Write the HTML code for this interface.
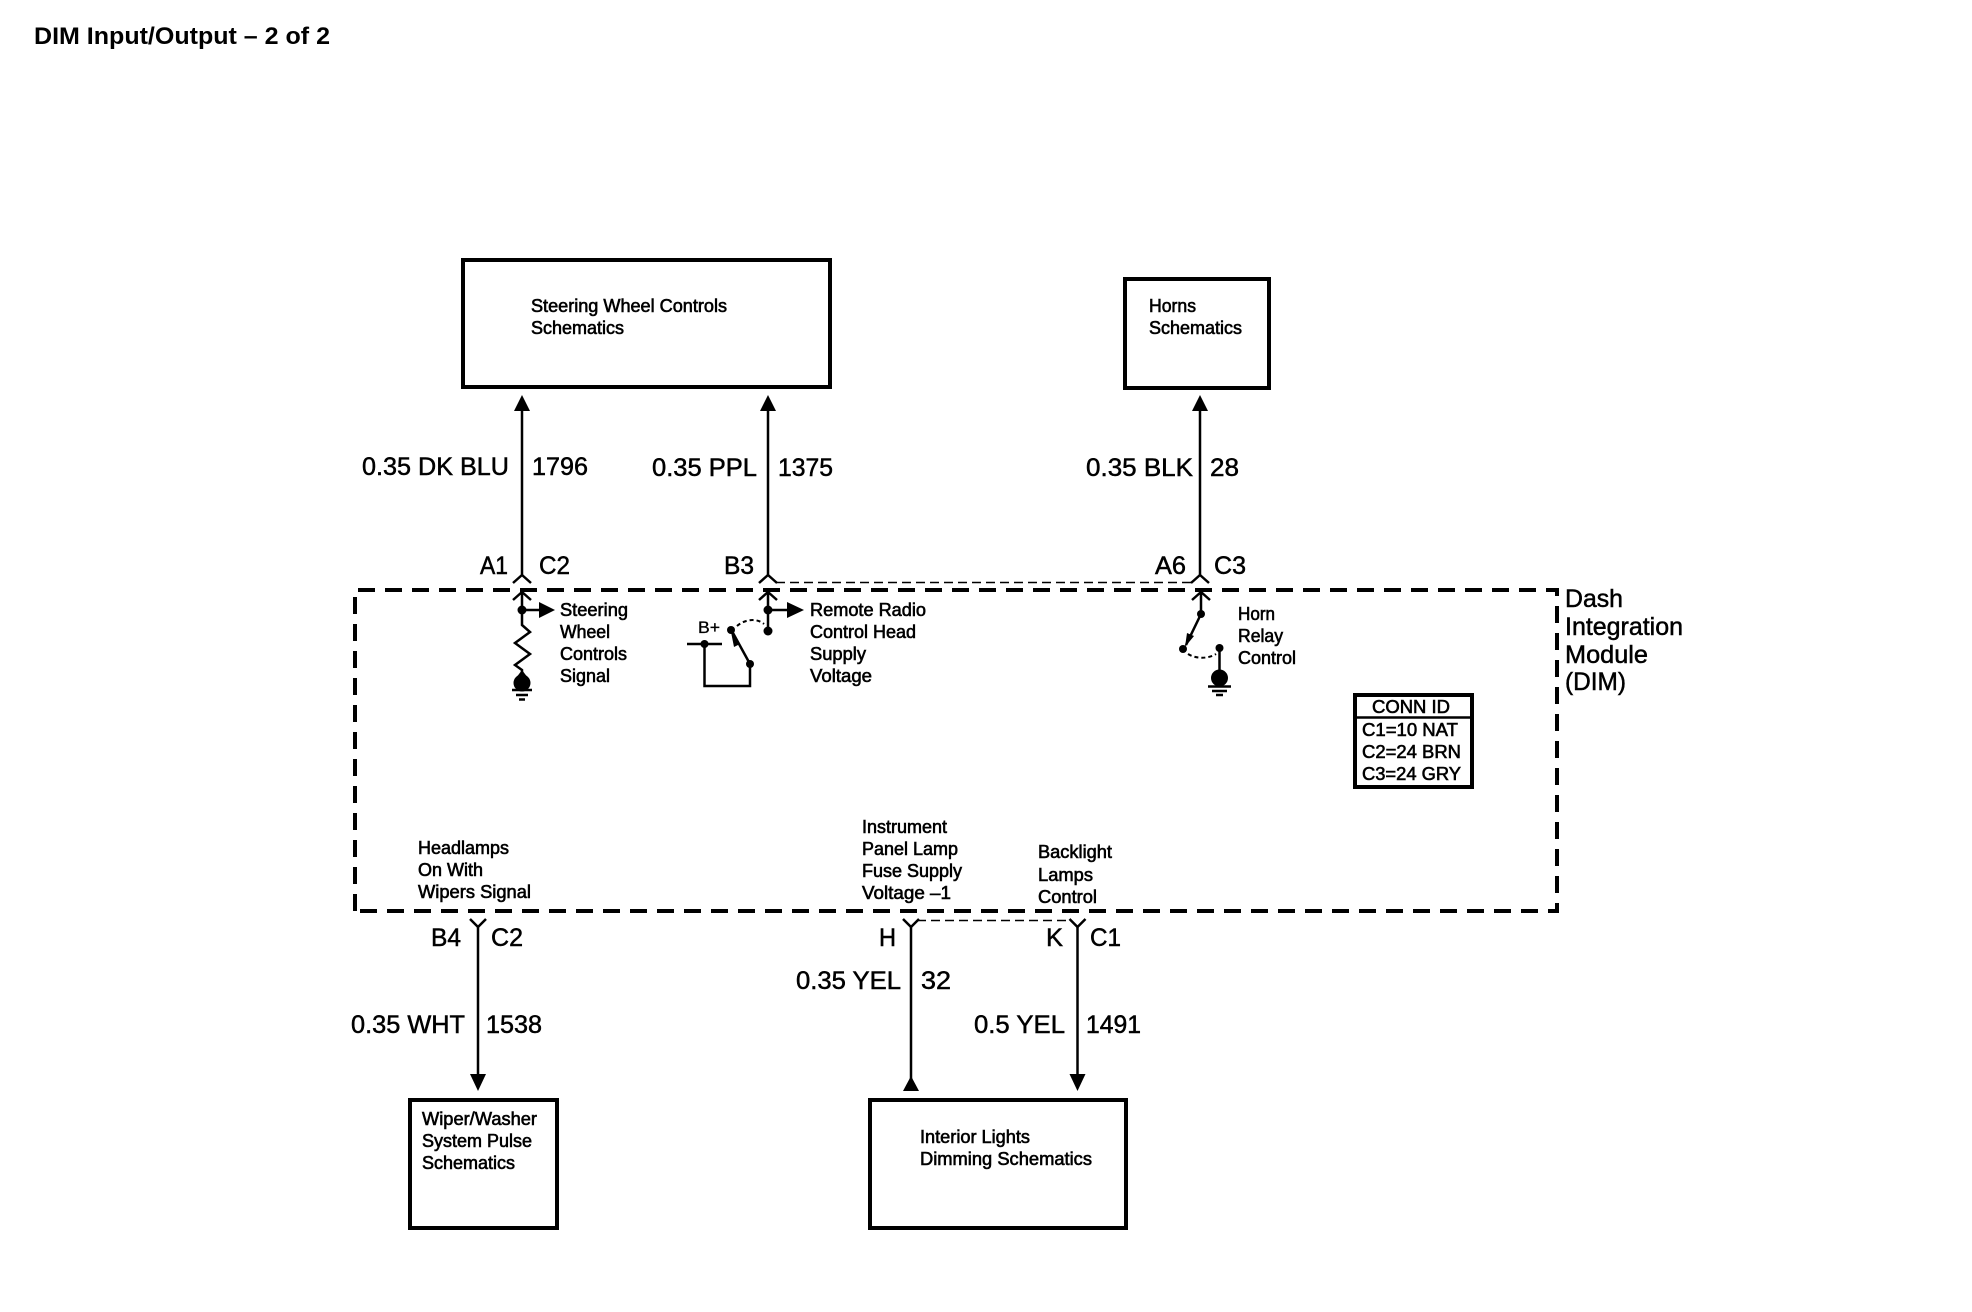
<!DOCTYPE html>
<html><head><meta charset="utf-8"><title>DIM Input/Output – 2 of 2</title>
<style>
html,body{margin:0;padding:0;background:#fff}
svg{display:block}
text{font-family:"Liberation Sans",sans-serif;fill:#000;stroke:#000;transform:translateX(-1px)}
.s{font-size:18px;stroke-width:.6}
.l{font-size:25px;stroke-width:.5}
.t{font-size:24px;font-weight:bold;stroke-width:0;transform:none}
.w{fill:none;stroke:#000;stroke-width:2.5}
.b{fill:none;stroke:#000;stroke-width:4}
.d{fill:none;stroke:#000;stroke-width:1.5;stroke-dasharray:9 5}
</style></head><body>
<svg width="1972" height="1312" viewBox="0 0 1972 1312" xmlns="http://www.w3.org/2000/svg">
<rect width="1972" height="1312" fill="#fff"/>
<text class="t" x="34" y="44" textLength="296" lengthAdjust="spacingAndGlyphs">DIM Input/Output – 2 of 2</text>

<!-- boxes -->
<rect class="b" x="463" y="260" width="367" height="127"/>
<rect class="b" x="1125" y="279" width="144" height="109"/>
<rect class="b" x="410" y="1100" width="147" height="128"/>
<rect class="b" x="870" y="1100" width="256" height="128"/>

<!-- box text -->
<text class="s" x="532" y="312" textLength="196" lengthAdjust="spacingAndGlyphs">Steering Wheel Controls</text>
<text class="s" x="532" y="334" textLength="93" lengthAdjust="spacingAndGlyphs">Schematics</text>
<text class="s" x="1150" y="312" textLength="47" lengthAdjust="spacingAndGlyphs">Horns</text>
<text class="s" x="1150" y="334" textLength="93" lengthAdjust="spacingAndGlyphs">Schematics</text>
<text class="s" x="423" y="1125" textLength="115" lengthAdjust="spacingAndGlyphs">Wiper/Washer</text>
<text class="s" x="423" y="1147" textLength="110" lengthAdjust="spacingAndGlyphs">System Pulse</text>
<text class="s" x="423" y="1169" textLength="93" lengthAdjust="spacingAndGlyphs">Schematics</text>
<text class="s" x="921" y="1143" textLength="110" lengthAdjust="spacingAndGlyphs">Interior Lights</text>
<text class="s" x="921" y="1165" textLength="172" lengthAdjust="spacingAndGlyphs">Dimming Schematics</text>

<!-- DIM dashed boundary -->
<path d="M355 911V590H1557V911Z" fill="none" stroke="#000" stroke-width="4" stroke-dasharray="17 10"/>

<!-- upper wires -->
<path class="w" d="M522 575V408M768 575V408M1200 575V408"/>
<path d="M522 395l-8 16h16zM768 395l-8 16h16zM1200 395l-8 16h16z" fill="#000"/>
<path class="w" d="M513 583l9-8 9 8M759 583l9-8 9 8M1191 583l9-8 9 8"/>
<path class="d" d="M776 582.500H1192"/>
<text class="l" x="363" y="475" textLength="147" lengthAdjust="spacingAndGlyphs">0.35 DK BLU</text>
<text class="l" x="533" y="475" textLength="56" lengthAdjust="spacingAndGlyphs">1796</text>
<text class="l" x="653" y="476" textLength="105" lengthAdjust="spacingAndGlyphs">0.35 PPL</text>
<text class="l" x="779" y="476" textLength="55" lengthAdjust="spacingAndGlyphs">1375</text>
<text class="l" x="1087" y="476" textLength="107" lengthAdjust="spacingAndGlyphs">0.35 BLK</text>
<text class="l" x="1211" y="476" textLength="29" lengthAdjust="spacingAndGlyphs">28</text>
<text class="l" x="481" y="574" textLength="28" lengthAdjust="spacingAndGlyphs">A1</text>
<text class="l" x="540" y="574" textLength="31" lengthAdjust="spacingAndGlyphs">C2</text>
<text class="l" x="725" y="574" textLength="30" lengthAdjust="spacingAndGlyphs">B3</text>
<text class="l" x="1156" y="574" textLength="31" lengthAdjust="spacingAndGlyphs">A6</text>
<text class="l" x="1215" y="574" textLength="32" lengthAdjust="spacingAndGlyphs">C3</text>

<!-- Steering wheel circuit -->
<path class="w" d="M513 600l9-8 9 8M522 592V625l8 7-15 11 15 11-15 11 7 5v6"/>
<circle cx="522" cy="610" r="4.500"/>
<path class="w" d="M522 610H540"/>
<path d="M539 602l16 8-16 8z"/>
<circle cx="522" cy="683" r="8.500"/>
<path d="M522 670l6 8h-12z"/>
<path class="w" d="M512 690h20M516 695h12M519 699.500h6"/>
<text class="s" x="561" y="616" textLength="68" lengthAdjust="spacingAndGlyphs">Steering</text>
<text class="s" x="561" y="638" textLength="50" lengthAdjust="spacingAndGlyphs">Wheel</text>
<text class="s" x="561" y="660" textLength="67" lengthAdjust="spacingAndGlyphs">Controls</text>
<text class="s" x="561" y="682" textLength="50" lengthAdjust="spacingAndGlyphs">Signal</text>

<!-- Remote radio circuit -->
<path class="w" d="M759 600l9-8 9 8M768 592V631M768 610H788"/>
<circle cx="768" cy="610" r="4.500"/><circle cx="768" cy="631" r="4.500"/>
<path d="M787 602l17 8-17 8z"/>
<path class="w" d="M687 644H722M704.500 644V686H750V664L733 633"/>
<circle cx="704.500" cy="644" r="4"/><circle cx="750" cy="664" r="4"/><circle cx="731" cy="630" r="4"/>
<path d="M731 632l9 12-6 3z"/>
<path d="M737 626c8-7 20-8 27-2" fill="none" stroke="#000" stroke-width="2" stroke-dasharray="4 3"/>
<text x="699" y="633" font-size="17" stroke-width=".3" textLength="22" lengthAdjust="spacingAndGlyphs">B+</text>
<text class="s" x="811" y="616" textLength="116" lengthAdjust="spacingAndGlyphs">Remote Radio</text>
<text class="s" x="811" y="638" textLength="106" lengthAdjust="spacingAndGlyphs">Control Head</text>
<text class="s" x="811" y="660" textLength="56" lengthAdjust="spacingAndGlyphs">Supply</text>
<text class="s" x="811" y="682" textLength="62" lengthAdjust="spacingAndGlyphs">Voltage</text>

<!-- Horn circuit -->
<path class="w" d="M1192 600l9-8 9 8M1201 592V614L1186 645M1219.500 648V672"/>
<circle cx="1201" cy="614" r="4"/><circle cx="1183" cy="649" r="4"/><circle cx="1219.500" cy="648" r="4"/>
<path d="M1185 647l2-14 7 3z"/>
<path d="M1188 654c8 5 20 5 28 0" fill="none" stroke="#000" stroke-width="2" stroke-dasharray="4 3"/>
<circle cx="1219.500" cy="678" r="8.500"/>
<path class="w" d="M1208 686.500h23M1212 691h15M1216 695h7"/>
<text class="s" x="1239" y="620" textLength="37" lengthAdjust="spacingAndGlyphs">Horn</text>
<text class="s" x="1239" y="642" textLength="45" lengthAdjust="spacingAndGlyphs">Relay</text>
<text class="s" x="1239" y="664" textLength="58" lengthAdjust="spacingAndGlyphs">Control</text>

<!-- DIM label -->
<text class="l" x="1566" y="607" textLength="58" lengthAdjust="spacingAndGlyphs">Dash</text>
<text class="l" x="1566" y="635" textLength="118" lengthAdjust="spacingAndGlyphs">Integration</text>
<text class="l" x="1566" y="663" textLength="83" lengthAdjust="spacingAndGlyphs">Module</text>
<text class="l" x="1566" y="690" textLength="61" lengthAdjust="spacingAndGlyphs">(DIM)</text>

<!-- CONN ID -->
<rect class="b" x="1355" y="695" width="117" height="92"/>
<path d="M1355 717.500H1472" stroke="#000" stroke-width="2.500"/>
<text class="s" x="1373" y="713" textLength="78" lengthAdjust="spacingAndGlyphs">CONN ID</text>
<text class="s" x="1363" y="736" textLength="96" lengthAdjust="spacingAndGlyphs">C1=10 NAT</text>
<text class="s" x="1363" y="758" textLength="99" lengthAdjust="spacingAndGlyphs">C2=24 BRN</text>
<text class="s" x="1363" y="780" textLength="99" lengthAdjust="spacingAndGlyphs">C3=24 GRY</text>

<!-- lower labels inside -->
<text class="s" x="419" y="854" textLength="91" lengthAdjust="spacingAndGlyphs">Headlamps</text>
<text class="s" x="419" y="876" textLength="65" lengthAdjust="spacingAndGlyphs">On With</text>
<text class="s" x="419" y="898" textLength="113" lengthAdjust="spacingAndGlyphs">Wipers Signal</text>
<text class="s" x="863" y="833" textLength="85" lengthAdjust="spacingAndGlyphs">Instrument</text>
<text class="s" x="863" y="855" textLength="96" lengthAdjust="spacingAndGlyphs">Panel Lamp</text>
<text class="s" x="863" y="877" textLength="100" lengthAdjust="spacingAndGlyphs">Fuse Supply</text>
<text class="s" x="863" y="899" textLength="89" lengthAdjust="spacingAndGlyphs">Voltage –1</text>
<text class="s" x="1039" y="858" textLength="74" lengthAdjust="spacingAndGlyphs">Backlight</text>
<text class="s" x="1039" y="881" textLength="55" lengthAdjust="spacingAndGlyphs">Lamps</text>
<text class="s" x="1039" y="903" textLength="59" lengthAdjust="spacingAndGlyphs">Control</text>

<!-- lower wires -->
<path class="w" d="M478 927V1076M911 927V1080M1077.500 927V1076"/>
<path class="w" d="M470 919l8 8 8-8M903 919l8 8 8-8M1069.500 919l8 8 8-8"/>
<path d="M470 1074h16l-8 17zM1069.500 1074h16l-8 17zM903 1091h16l-8-15z"/>
<path class="d" d="M917 920.500H1070"/>
<text class="l" x="432" y="946" textLength="30" lengthAdjust="spacingAndGlyphs">B4</text>
<text class="l" x="492" y="946" textLength="32" lengthAdjust="spacingAndGlyphs">C2</text>
<text class="l" x="880" y="946" textLength="17" lengthAdjust="spacingAndGlyphs">H</text>
<text class="l" x="1047" y="946" textLength="17" lengthAdjust="spacingAndGlyphs">K</text>
<text class="l" x="1091" y="946" textLength="31" lengthAdjust="spacingAndGlyphs">C1</text>
<text class="l" x="797" y="989" textLength="105" lengthAdjust="spacingAndGlyphs">0.35 YEL</text>
<text class="l" x="922" y="989" textLength="30" lengthAdjust="spacingAndGlyphs">32</text>
<text class="l" x="352" y="1033" textLength="114" lengthAdjust="spacingAndGlyphs">0.35 WHT</text>
<text class="l" x="487" y="1033" textLength="56" lengthAdjust="spacingAndGlyphs">1538</text>
<text class="l" x="975" y="1033" textLength="91" lengthAdjust="spacingAndGlyphs">0.5 YEL</text>
<text class="l" x="1087" y="1033" textLength="55" lengthAdjust="spacingAndGlyphs">1491</text>
</svg>
</body></html>
